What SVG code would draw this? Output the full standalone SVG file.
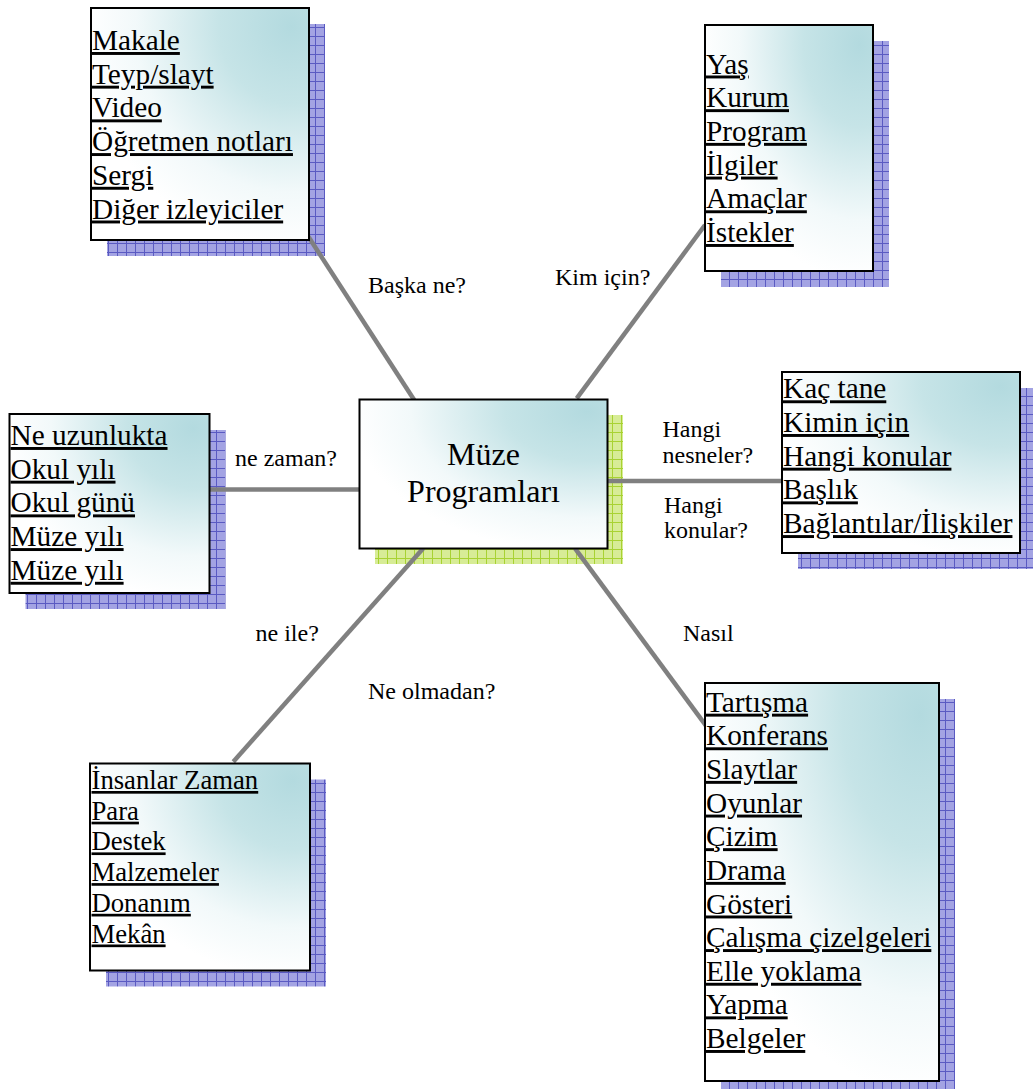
<svg xmlns="http://www.w3.org/2000/svg" width="1033" height="1089" viewBox="0 0 1033 1089">
  <style>
    .box { fill: url(#boxfill); stroke: #000; stroke-width: 2; }
    .shadow { fill: url(#blueGrid); }
    .shadowG { fill: url(#greenGrid); }
    .item { font-family: "Liberation Serif", "Times New Roman", serif; font-size: 29.3px; fill: #000; text-decoration: underline; }
    .item5 { font-family: "Liberation Serif", "Times New Roman", serif; font-size: 26.7px; fill: #000; text-decoration: underline; }
    .title { font-family: "Liberation Serif", "Times New Roman", serif; font-size: 32px; fill: #000; text-anchor: middle; }
    .lbl { font-family: "Liberation Serif", "Times New Roman", serif; font-size: 24px; fill: #000; }
    .conn { stroke: #808080; stroke-width: 4.5; fill: none; }
  </style>
  <defs>
    <radialGradient id="boxfill" cx="0.92" cy="0.08" r="0.95" fx="0.92" fy="0.08">
      <stop offset="0" stop-color="#b3dadf"/>
      <stop offset="0.35" stop-color="#c6e4e7"/>
      <stop offset="0.75" stop-color="#f2f9fa"/>
      <stop offset="1" stop-color="#ffffff"/>
    </radialGradient>
    <pattern id="blueGrid" patternUnits="userSpaceOnUse" width="9" height="9">
      <rect width="9" height="9" fill="#a3a3e3"/>
      <path d="M0 0.5H9M0.5 0V9" stroke="#5a5ac2" stroke-width="1"/>
    </pattern>
    <pattern id="greenGrid" patternUnits="userSpaceOnUse" width="9" height="9">
      <rect width="9" height="9" fill="#d7ec96"/>
      <path d="M0 0.5H9M0.5 0V9" stroke="#a8d232" stroke-width="1"/>
    </pattern>
  </defs>
  <rect width="1033" height="1089" fill="#ffffff"/>

  <g id="shadows">
    <rect class="shadow" x="107" y="24" width="218" height="232"/>
    <rect class="shadow" x="721" y="41" width="168" height="246"/>
    <rect class="shadow" x="25.5" y="430" width="200" height="179"/>
    <rect class="shadow" x="798" y="388" width="238" height="181"/>
    <rect class="shadow" x="106" y="779.5" width="220" height="207"/>
    <rect class="shadow" x="721" y="699" width="234" height="398"/>
    <rect class="shadowG" x="375" y="415" width="248" height="149"/>
  </g>

  <g id="connectors">
    <line class="conn" x1="297.6" y1="220" x2="414.2" y2="400"/>
    <line class="conn" x1="576.7" y1="398.3" x2="705" y2="225"/>
    <line class="conn" x1="209" y1="489.5" x2="359" y2="489.5"/>
    <line class="conn" x1="607" y1="481" x2="782" y2="481"/>
    <line class="conn" x1="423.3" y1="548.3" x2="233.3" y2="761.7"/>
    <line class="conn" x1="575" y1="548.3" x2="706.7" y2="726.7"/>
    <text class="lbl" x="368" y="292.7">Başka ne?</text>
    <text class="lbl" x="555" y="285">Kim için?</text>
    <text class="lbl" x="235" y="466">ne zaman?</text>
    <text class="lbl" x="662.5" y="436.7">Hangi</text>
    <text class="lbl" x="662.5" y="463.3">nesneler?</text>
    <text class="lbl" x="664" y="512.7">Hangi</text>
    <text class="lbl" x="664" y="538.3">konular?</text>
    <text class="lbl" x="255.5" y="640.7">ne ile?</text>
    <text class="lbl" x="368" y="699.3">Ne olmadan?</text>
    <text class="lbl" x="683" y="640.7">Nasıl</text>
  </g>

  <g id="node-center">
    <rect class="box" x="359.5" y="399.5" width="248" height="149"/>
    <text class="title" x="483.5" y="465">Müze</text>
    <text class="title" x="483.5" y="501.7">Programları</text>
  </g>

  <g id="node-baska">
    <rect class="box" x="91" y="8" width="218" height="232"/>
    <text class="item" x="92" y="50">Makale</text>
    <text class="item" x="92" y="83.7">Teyp/slayt</text>
    <text class="item" x="92" y="117.4">Video</text>
    <text class="item" x="92" y="151.1">Öğretmen notları</text>
    <text class="item" x="92" y="184.8">Sergi</text>
    <text class="item" x="92" y="218.5">Diğer izleyiciler</text>
  </g>

  <g id="node-kim">
    <rect class="box" x="705" y="25" width="168" height="246"/>
    <text class="item" x="706" y="73.5">Yaş</text>
    <text class="item" x="706" y="107.2">Kurum</text>
    <text class="item" x="706" y="140.9">Program</text>
    <text class="item" x="706" y="174.6">İlgiler</text>
    <text class="item" x="706" y="208.3">Amaçlar</text>
    <text class="item" x="706" y="242">İstekler</text>
  </g>

  <g id="node-zaman">
    <rect class="box" x="9.5" y="414" width="200" height="179"/>
    <text class="item" x="10.5" y="445">Ne uzunlukta</text>
    <text class="item" x="10.5" y="478.7">Okul yılı</text>
    <text class="item" x="10.5" y="512.4">Okul günü</text>
    <text class="item" x="10.5" y="546.1">Müze yılı</text>
    <text class="item" x="10.5" y="579.8">Müze yılı</text>
  </g>

  <g id="node-hangi">
    <rect class="box" x="782" y="372" width="238" height="181"/>
    <text class="item" x="783" y="398.3">Kaç tane</text>
    <text class="item" x="783" y="432">Kimin için</text>
    <text class="item" x="783" y="465.7">Hangi konular</text>
    <text class="item" x="783" y="499.4">Başlık</text>
    <text class="item" x="783" y="533.1">Bağlantılar/İlişkiler</text>
  </g>

  <g id="node-ile">
    <rect class="box" x="90" y="763.5" width="220" height="207"/>
    <text class="item5" x="91.5" y="789">İnsanlar Zaman</text>
    <text class="item5" x="91.5" y="819.7">Para</text>
    <text class="item5" x="91.5" y="850.4">Destek</text>
    <text class="item5" x="91.5" y="881.1">Malzemeler</text>
    <text class="item5" x="91.5" y="911.8">Donanım</text>
    <text class="item5" x="91.5" y="942.5">Mekân</text>
  </g>

  <g id="node-nasil">
    <rect class="box" x="705" y="683" width="234" height="398"/>
    <text class="item" x="706" y="711.7">Tartışma</text>
    <text class="item" x="706" y="745.3">Konferans</text>
    <text class="item" x="706" y="778.9">Slaytlar</text>
    <text class="item" x="706" y="812.6">Oyunlar</text>
    <text class="item" x="706" y="846.2">Çizim</text>
    <text class="item" x="706" y="879.9">Drama</text>
    <text class="item" x="706" y="913.5">Gösteri</text>
    <text class="item" x="706" y="947.1">Çalışma çizelgeleri</text>
    <text class="item" x="706" y="980.8">Elle yoklama</text>
    <text class="item" x="706" y="1014.4">Yapma</text>
    <text class="item" x="706" y="1048">Belgeler</text>
  </g>
</svg>
